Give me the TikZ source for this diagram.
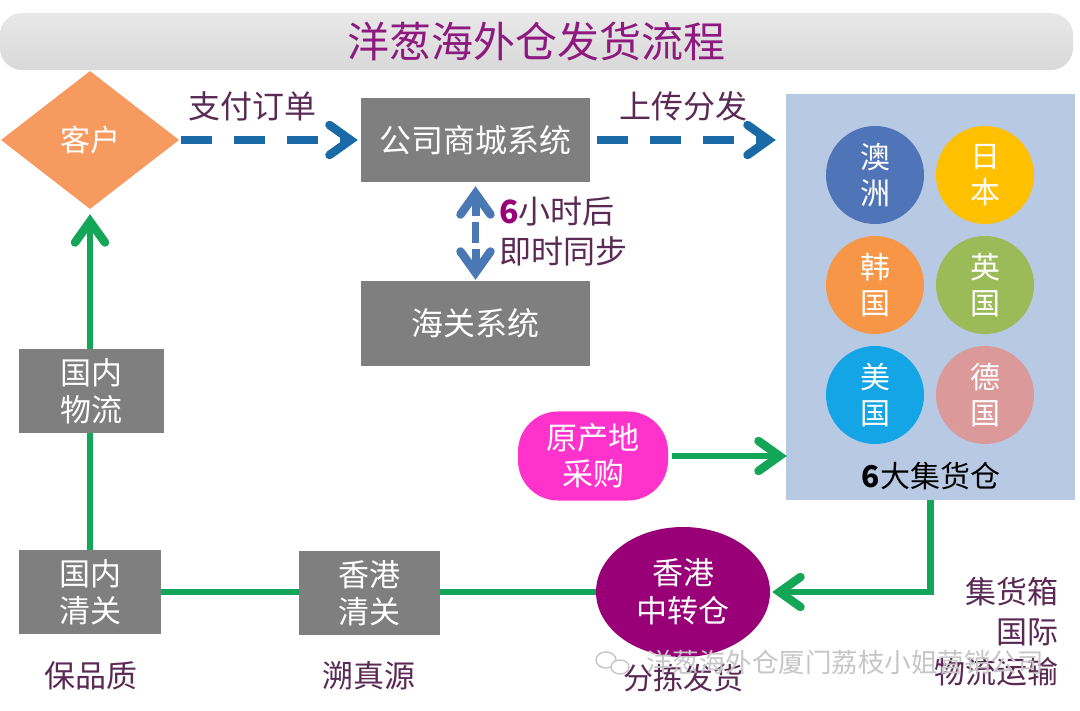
\documentclass[tikz,border=0pt]{standalone}
\usepackage{fontspec}
\setmainfont{Noto Sans CJK SC}
\usetikzlibrary{arrows.meta,shapes.geometric,positioning}
\definecolor{boxgray}{HTML}{7F7F7F}
\definecolor{flowgreen}{HTML}{14A658}
\definecolor{dashblue}{HTML}{1A6AA8}
\definecolor{syncblue}{HTML}{4A78B5}
\definecolor{labelpurple}{HTML}{5A2A55}
\definecolor{titlepurple}{HTML}{8E1A80}
\definecolor{panelblue}{HTML}{B8C9E4}
\definecolor{cAu}{HTML}{4F75B8}
\definecolor{cJp}{HTML}{FFC000}
\definecolor{cKr}{HTML}{F79646}
\definecolor{cUk}{HTML}{9BBB59}
\definecolor{cUs}{HTML}{14A5E6}
\definecolor{cDe}{HTML}{DB9999}
\definecolor{cCust}{HTML}{F79A60}
\definecolor{cHub}{HTML}{990077}
\definecolor{cSrc}{HTML}{FF33CC}
\tikzset{
  x=1pt,y=-1pt,
  >={Straight Barb[length=21pt,width=30pt,line width=8.5pt,line cap=round,line join=miter]},
  grayBox/.style={draw=none,fill=boxgray,text=white,minimum width=#1,inner sep=0pt,align=center,font=\fontsize{31}{37}\selectfont},
  dot/.style={circle,minimum size=98pt,inner sep=0pt,text=white,align=center,font=\fontsize{30}{36}\selectfont},
  greenLine/.style={draw=flowgreen,line width=6.5pt},
  greenArrow/.style={greenLine,->},
  dashArrow/.style={draw=dashblue,line width=7.5pt,dash pattern=on 31pt off 22pt,->},
  syncHead/.style={draw=syncblue,line width=8pt,->},
  floatLabel/.style={text=labelpurple,inner sep=0pt,align=center,font=\fontsize{32}{40}\selectfont},
}
\begin{document}
\begin{tikzpicture}
\useasboundingbox (0,0) rectangle (1080,711);
\fill[white] (0,0) rectangle (1080,711);
% title
\node[rounded corners=22pt,minimum width=1073pt,minimum height=57pt,inner sep=0pt,top color=black!9,bottom color=black!15,text=titlepurple,font=\fontsize{42}{46}\selectfont] (title) at (536.5,41.5) {洋葱海外仓发货流程};
% panel
\node[fill=panelblue,minimum width=289pt,minimum height=406pt,inner sep=0pt] (panel) at (930.5,297) {};
\node[dot,fill=cAu] (au) at (875,175) {澳\\洲};
\node[dot,fill=cJp] (jp) at (985,175) {日\\本};
\node[dot,fill=cKr] (kr) at (875,285) {韩\\国};
\node[dot,fill=cUk] (uk) at (985,285) {英\\国};
\node[dot,fill=cUs] (us) at (875,395) {美\\国};
\node[dot,fill=cDe] (de) at (985,395) {德\\国};
\node[inner sep=0pt,text=black,font=\fontsize{30}{34}\selectfont] (pl) at (931,476) {\textbf{6}大集货仓};
% nodes
\node[diamond,aspect=1.29,fill=cCust,inner sep=0pt,minimum width=178pt,minimum height=138pt,text=white,font=\fontsize{30}{36}\selectfont] (cust) at (90,140) {客户};
\node[grayBox=229pt,minimum height=84pt,font=\fontsize{32}{37}\selectfont] (shop) at (475.5,140) {公司商城系统};
\node[grayBox=229pt,minimum height=85pt,font=\fontsize{32}{37}\selectfont] (customs) at (475.5,323.5) {海关系统};
\node[grayBox=145pt,minimum height=84pt] (dlog) at (91.5,391) {国内\\物流};
\node[grayBox=142pt,minimum height=84pt] (dclr) at (90,592) {国内\\清关};
\node[grayBox=141pt,minimum height=84pt] (hkclr) at (369.5,593) {香港\\清关};
\node[ellipse,fill=cHub,text=white,minimum width=174pt,minimum height=130pt,inner sep=0pt,align=center,font=\fontsize{31}{38}\selectfont] (hub) at (683,592) {香港\\中转仓};
\node[rounded corners=40pt,fill=cSrc,text=white,minimum width=150pt,minimum height=89pt,inner sep=0pt,align=center,font=\fontsize{31}{36}\selectfont] (src) at (593,456) {原产地\\采购};
% connector anchors
\coordinate (syncA) at (475.5,216);
\coordinate (syncB) at (475.5,222);
\coordinate (syncC) at (475.5,243);
\coordinate (syncD) at (475.5,249);
% connectors
\draw[dashArrow] ([xshift=2pt]cust.east) -- ([xshift=-3pt]shop.west);
\draw[dashArrow] ([xshift=7pt]shop.east) -- ([xshift=-10pt]panel.west |- shop.east);
\draw[syncHead] (syncA) -- ([yshift=-4pt]shop.south);
\draw[draw=syncblue,line width=7.5pt] (syncB) -- (syncC);
\draw[syncHead] (syncD) -- ([yshift=1pt]customs.north);
\draw[greenArrow] ([xshift=4pt]src.east) -- ([xshift=1pt]panel.west |- src.east);
\draw[greenLine] (dclr.north -| cust.south) -- (dlog.south -| cust.south);
\draw[greenArrow] (dlog.north -| cust.south) -- ([yshift=-5pt]cust.south);
\draw[greenLine] (dclr.east) -- (hkclr.west |- dclr.east);
\draw[greenLine] (hkclr.east |- hub.west) -- (hub.west);
\draw[greenArrow] (panel.south) |- ([xshift=2pt]hub.east);
% labels
\node[floatLabel] (l1) at (252,106) {支付订单};
\node[floatLabel] (l2) at (683,106) {上传分发};
\node[floatLabel,anchor=west,align=left] (l3) at (499,231) {\textcolor{cHub}{\textbf{6}}小时后\\即时同步};
\node[floatLabel,font=\fontsize{31}{40}\selectfont] (l4) at (91,676) {保品质};
\node[floatLabel,font=\fontsize{31}{40}\selectfont] (l5) at (369,676) {溯真源};
\node[floatLabel,font=\fontsize{30}{40}\selectfont] (l6) at (683,678) {分拣发货};
\node[floatLabel,anchor=east,align=right,font=\fontsize{31}{40}\selectfont] (l7) at (1059,632) {集货箱\\国际\\物流运输};
% watermark
\draw[gray!45,line width=1.4pt] (606,660) ellipse (10pt and 8pt);
\draw[gray!45,line width=1.4pt,fill=white] (620,667) ellipse (9pt and 7pt);
\node[inner sep=0pt,text=gray!45,font=\fontsize{26.5}{32}\selectfont] (wm) at (845,662) {洋葱海外仓厦门荔枝小姐营销公司};
\end{tikzpicture}
\end{document}
